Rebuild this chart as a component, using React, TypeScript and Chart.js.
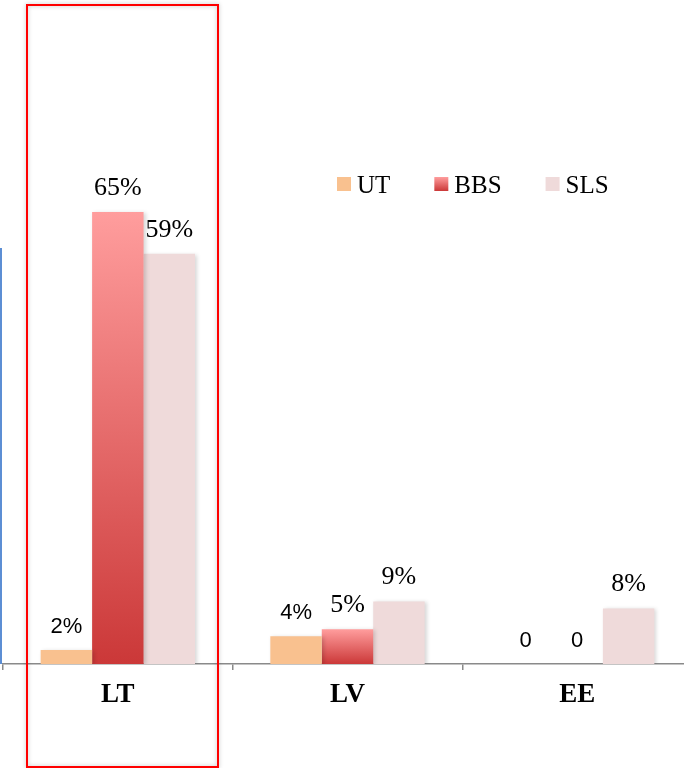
import React, { useEffect, useRef } from "react";
import { Chart, registerables } from "chart.js";

Chart.register(...registerables);

// ---- data ----
const categories = ["LT", "LV", "EE"];
const seriesNames = ["UT", "BBS", "SLS"];
const utValues = [2, 4, 0];
const bbsValues = [65, 5, 0];
const slsValues = [59, 9, 8];
// value labels that are drawn in a sans-serif face: [seriesIndex, categoryIndex]
const sansLabelCells = [
  [0, 0],
  [0, 1],
  [0, 2],
  [1, 2],
];

// ---- styles ----
const UT_COLOR = "#F9C18F";
const SLS_COLOR = "#EFDADA";
const BBS_TOP = "#FF9D9D";
const BBS_BOTTOM = "#CB3838";
const SERIF = "'Liberation Serif', 'Times New Roman', serif";
const SANS = "'Liberation Sans', Arial, sans-serif";

function bbsGradient(ctx: CanvasRenderingContext2D, top: number, bottom: number) {
  const g = ctx.createLinearGradient(0, top, 0, bottom);
  g.addColorStop(0, BBS_TOP);
  g.addColorStop(1, BBS_BOTTOM);
  return g;
}

const overlayPlugin = {
  id: "overlay",
  beforeDatasetsDraw(chart: any) {
    const ctx = chart.ctx;
    ctx.save();
    ctx.shadowColor = "rgba(0,0,0,0.16)";
    ctx.shadowBlur = 4;
    ctx.shadowOffsetX = 2;
    ctx.shadowOffsetY = 1;
  },
  afterDatasetsDraw(chart: any) {
    const ctx = chart.ctx;
    ctx.restore();
    ctx.save();
    ctx.fillStyle = "#000";
    ctx.textAlign = "center";
    ctx.textBaseline = "alphabetic";
    chart.data.datasets.forEach((ds: any, di: number) => {
      const meta = chart.getDatasetMeta(di);
      meta.data.forEach((el: any, i: number) => {
        const v = ds.data[i] as number;
        const sans = sansLabelCells.some((c) => c[0] === di && c[1] === i);
        ctx.font = sans ? `22px ${SANS}` : `26px ${SERIF}`;
        const text = v === 0 ? "0" : `${v}%`;
        ctx.fillText(text, el.x, el.y - 17);
      });
    });
    ctx.restore();
  },
  afterDraw(chart: any) {
    const ctx = chart.ctx;
    // legend
    ctx.save();
    ctx.font = `25px ${SERIF}`;
    ctx.textBaseline = "alphabetic";
    ctx.textAlign = "left";
    let x = 337;
    const boxTop = 177;
    const box = 14;
    chart.data.datasets.forEach((ds: any, di: number) => {
      if (di === 1) {
        ctx.fillStyle = bbsGradient(ctx, boxTop, boxTop + box);
      } else {
        ctx.fillStyle = ds.legendColor;
      }
      ctx.fillRect(x, boxTop, box, box);
      ctx.fillStyle = "#000";
      const tx = x + box + 6;
      ctx.fillText(ds.label, tx, 192.5);
      x = tx + ctx.measureText(ds.label).width + 44;
    });
    ctx.restore();

    // blue line at the left edge
    ctx.save();
    ctx.strokeStyle = "#5C8ED4";
    ctx.lineWidth = 2;
    ctx.beginPath();
    ctx.moveTo(1, 248);
    ctx.lineTo(1, 664);
    ctx.stroke();
    ctx.restore();

    // red highlight rectangle
    ctx.save();
    ctx.shadowColor = "rgba(0,0,0,0.25)";
    ctx.shadowBlur = 4;
    ctx.strokeStyle = "#FF0000";
    ctx.lineWidth = 2;
    ctx.strokeRect(27, 5, 191, 762);
    ctx.restore();
  },
};

export default function App() {
  const canvasRef = useRef<HTMLCanvasElement | null>(null);

  useEffect(() => {
    const canvas = canvasRef.current;
    if (!canvas) return;
    const chart = new Chart(canvas, {
      type: "bar",
      data: {
        labels: categories,
        datasets: [
          {
            label: seriesNames[0],
            data: utValues,
            backgroundColor: UT_COLOR,
            legendColor: UT_COLOR,
          } as any,
          {
            label: seriesNames[1],
            data: bbsValues,
            legendColor: BBS_BOTTOM,
            backgroundColor: (c: any) => {
              const ch = c.chart;
              if (!ch.chartArea || c.type !== "data" || !ch.scales.y) return BBS_BOTTOM;
              const yScale = ch.scales.y;
              const top = yScale.getPixelForValue(c.raw);
              const bottom = yScale.getPixelForValue(0);
              if (!(bottom > top)) return BBS_BOTTOM;
              return bbsGradient(ch.ctx, top, bottom);
            },
          } as any,
          {
            label: seriesNames[2],
            data: slsValues,
            backgroundColor: SLS_COLOR,
            legendColor: SLS_COLOR,
          } as any,
        ],
      },
      options: {
        animation: false,
        responsive: false,
        devicePixelRatio: 1,
        layout: { padding: { left: 3, right: 0, top: 0, bottom: 0 } },
        datasets: {
          bar: { categoryPercentage: 0.672, barPercentage: 1 },
        },
        plugins: {
          legend: { display: false },
          tooltip: { enabled: false },
        },
        scales: {
          x: {
            grid: {
              display: true,
              drawOnChartArea: false,
              drawTicks: true,
              tickLength: 6,
              offset: true,
              color: "#8A8A8A",
              lineWidth: 1.5,
            },
            border: { display: true, color: "#8A8A8A", width: 1.5 },
            ticks: {
              color: "#000",
              padding: 9,
              font: { family: SERIF, size: 27, weight: "bold" },
            },
            afterFit: (scale: any) => {
              scale.height = 104;
            },
          },
          y: {
            display: false,
            min: 0,
            max: 95.5,
          },
        },
      } as any,
      plugins: [overlayPlugin],
    });
    return () => chart.destroy();
  }, []);

  return (
    <div
      style={{
        position: "fixed",
        left: 0,
        top: 0,
        width: 684,
        height: 768,
        overflow: "hidden",
        background: "#fff",
      }}
    >
      <canvas ref={canvasRef} width={692} height={768} style={{ width: 692, height: 768, display: "block" }} />
    </div>
  );
}
